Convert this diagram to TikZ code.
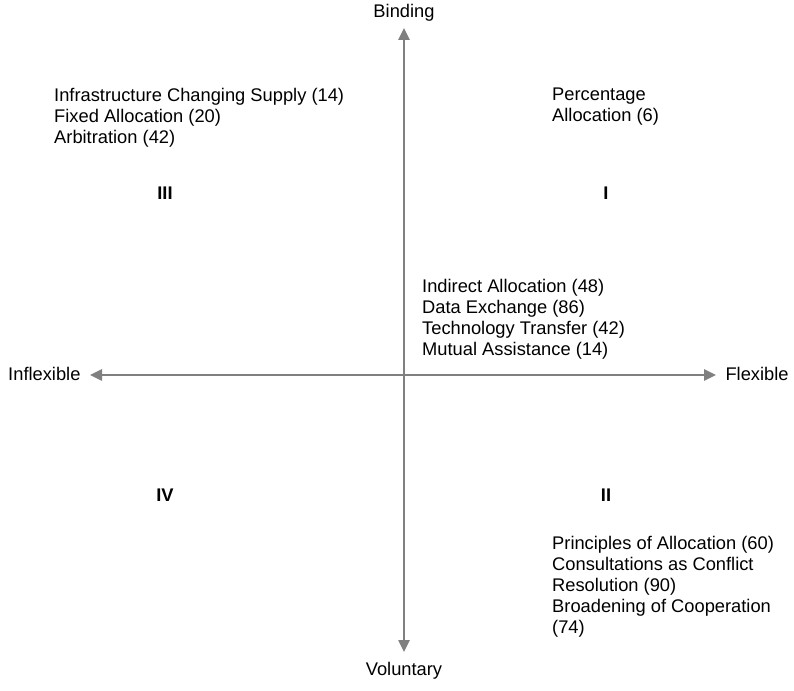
\documentclass[tikz,border=0pt]{standalone}
\usepackage{fontspec}
\setmainfont{Liberation Sans}
\usetikzlibrary{arrows.meta}

\begin{document}
\begin{tikzpicture}[x=1pt,y=1pt]

\useasboundingbox (0,0) rectangle (794,690);

\coordinate (cN) at (404,662);
\coordinate (cS) at (404,38);
\coordinate (cW) at (90,315);
\coordinate (cE) at (716,315);

\node[draw=none,font=\fontsize{18.3}{21}\selectfont,anchor=south]     (Binding)    at (404,665) {Binding};
\node[draw=none,font=\fontsize{18.3}{21}\selectfont,anchor=north]     (Voluntary)  at (404,31)  {Voluntary};
\node[draw=none,font=\fontsize{18.3}{21}\selectfont,anchor=east]      (Inflexible) at (84,316)  {Inflexible};
\node[draw=none,font=\fontsize{18.3}{21}\selectfont,anchor=west]      (Flexible)   at (722,316) {Flexible};

\node[draw=none,font=\fontsize{18.3}{21}\selectfont\bfseries] (III) at (165,497) {III};
\node[draw=none,font=\fontsize{18.3}{21}\selectfont\bfseries] (I)   at (606,497) {I};
\node[draw=none,font=\fontsize{18.3}{21}\selectfont\bfseries] (IV)  at (165,195) {IV};
\node[draw=none,font=\fontsize{18.3}{21}\selectfont\bfseries] (II)  at (606,195) {II};

\node[draw=none,font=\fontsize{18.3}{21}\selectfont,align=left,anchor=north west,inner sep=0pt] (TL) at (54,602)
  {Infrastructure Changing Supply (14)\\Fixed Allocation (20)\\Arbitration (42)};
\node[draw=none,font=\fontsize{18.3}{21}\selectfont,align=left,anchor=north west,inner sep=0pt] (TR) at (552,602)
  {Percentage\\Allocation (6)};
\node[draw=none,font=\fontsize{18.3}{21}\selectfont,align=left,anchor=north west,inner sep=0pt] (M) at (422,411)
  {Indirect Allocation (48)\\Data Exchange (86)\\Technology Transfer (42)\\Mutual Assistance (14)};
\node[draw=none,font=\fontsize{18.3}{21}\selectfont,align=left,anchor=north west,inner sep=0pt] (BR) at (552,154)
  {Principles of Allocation (60)\\Consultations as Conflict\\Resolution (90)\\Broadening of Cooperation\\(74)};

\draw[gray,line width=2.5pt,{Triangle[length=12pt,width=11pt]}-{Triangle[length=12pt,width=11pt]}] (cS) -- (cN);
\draw[gray,line width=2.5pt,{Triangle[length=12pt,width=11pt]}-{Triangle[length=12pt,width=11pt]}] (cW) -- (cE);

\end{tikzpicture}
\end{document}
